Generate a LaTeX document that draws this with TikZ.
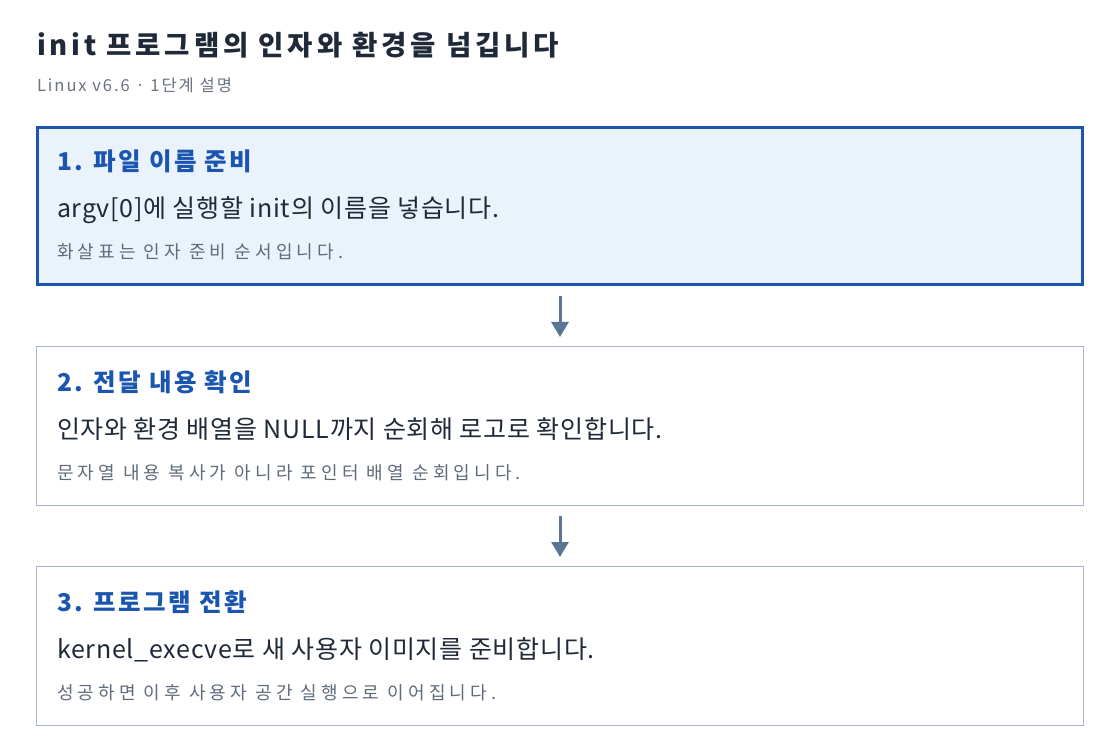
\documentclass[tikz,border=0pt]{standalone}
\usepackage{fontspec}
\setmainfont{Noto Sans CJK KR}
\newfontfamily\titlefont[LetterSpace=14]{Noto Sans CJK KR}
\newfontfamily\subfont[LetterSpace=12]{Noto Sans CJK KR}
\newfontfamily\headfont[LetterSpace=10]{Noto Sans CJK KR}
\newfontfamily\bodyfont[LetterSpace=3]{Noto Sans CJK KR}
\newfontfamily\notefont[LetterSpace=23]{Noto Sans CJK KR}
\usetikzlibrary{arrows.meta}
\definecolor{inkdark}{HTML}{1F2937}
\definecolor{inkgray}{HTML}{6B7280}
\definecolor{notegray}{HTML}{5F6B7A}
\definecolor{accent}{HTML}{1A55B0}
\definecolor{activefill}{HTML}{EAF2FC}
\definecolor{boxline}{HTML}{AAB6C4}
\definecolor{arrowcol}{HTML}{5B7693}
\begin{document}
\begin{tikzpicture}[x=1pt,y=-1pt,
  activebox/.style={draw=accent, line width=3pt, fill=activefill, minimum width=1045pt, minimum height=157pt, inner sep=0pt},
  plainbox/.style={draw=boxline, line width=1pt, fill=white, minimum width=1047pt, minimum height=159pt, inner sep=0pt},
  txt/.style={anchor=base west, inner sep=0pt, outer sep=0pt},
  titletxt/.style={txt, text=inkdark, font=\titlefont\bfseries\fontsize{27.5}{32}\selectfont},
  subtxt/.style={txt, text=inkgray, font=\subfont\fontsize{16.5}{20}\selectfont},
  headtxt/.style={txt, text=accent, font=\headfont\bfseries\fontsize{24.5}{29}\selectfont},
  bodytxt/.style={txt, text=inkdark, font=\bodyfont\fontsize{25}{30}\selectfont},
  notetxt/.style={txt, text=notegray, font=\notefont\fontsize{18}{22}\selectfont},
  flowarrow/.style={draw=arrowcol, line width=3pt, -{Triangle[length=15pt,width=17pt]}, shorten <=10pt, shorten >=9pt}
]
\useasboundingbox[fill=white] (0,0) rectangle (1120,754);

\node[titletxt] (title) at (37,56) {init 프로그램의 인자와 환경을 넘깁니다};
\node[subtxt] (subtitle) at (37,92) {Linux v6.6 · 1단계 설명};

\node[activebox] (box1) at (560,206) {};
\node[plainbox] (box2) at (560,426) {};
\node[plainbox] (box3) at (560,646) {};

\node[headtxt] (h1) at (57,171) {1. 파일 이름 준비};
\node[bodytxt] (b1) at (57,218) {argv[0]에 실행할 init의 이름을 넣습니다.};
\node[notetxt] (n1) at (57,259) {화살표는 인자 준비 순서입니다.};

\node[headtxt] (h2) at (57,391) {2. 전달 내용 확인};
\node[bodytxt] (b2) at (57,438) {인자와 환경 배열을 NULL까지 순회해 로고로 확인합니다.};
\node[notetxt] (n2) at (57,479) {문자열 내용 복사가 아니라 포인터 배열 순회입니다.};

\node[headtxt] (h3) at (57,611) {3. 프로그램 전환};
\node[bodytxt] (b3) at (57,658) {kernel\_execve로 새 사용자 이미지를 준비합니다.};
\node[notetxt] (n3) at (57,699) {성공하면 이후 사용자 공간 실행으로 이어집니다.};

\draw[flowarrow] (box1.south) -- (box2.north);
\draw[flowarrow] (box2.south) -- (box3.north);
\end{tikzpicture}
\end{document}
